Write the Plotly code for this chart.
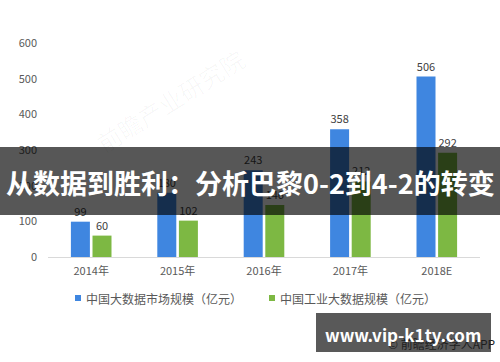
import plotly.graph_objects as go

categories = ["2014年", "2015年", "2016年", "2017年", "2018E"]
market_size = [99, 180, 243, 358, 506]
industrial_size = [60, 102, 146, 212, 292]
series_names = ["中国大数据市场规模（亿元）", "中国工业大数据规模（亿元）"]
y_ticks = [0, 100, 200, 300, 400, 500, 600]

FONT = "Noto Sans CJK SC, Microsoft YaHei, sans-serif"
BLUE = "#3F86E0"
GREEN = "#7DB843"
colors = [BLUE, GREEN]

fig = go.Figure()
for name, vals, col in zip(series_names, [market_size, industrial_size], colors):
    fig.add_trace(go.Bar(
        x=categories, y=vals, name=name,
        marker=dict(color=col, line=dict(width=0)),
        text=vals, textposition="outside", cliponaxis=False,
        textfont=dict(family=FONT, size=11, color="#404040"),
    ))

L, T, R, B = 48, 43, 20, 105
W, H = 500, 362
pw, ph = W - L - R, H - T - B

def px(x):
    return (x - L) / pw

def py(y):
    return (H - B - y) / ph

fig.update_layout(
    width=W, height=H,
    margin=dict(l=L, r=R, t=T, b=B, pad=0),
    paper_bgcolor="white", plot_bgcolor="white",
    barmode="group", bargap=0.5, bargroupgap=0.12,
    font=dict(family=FONT, color="#595959", size=11),
    showlegend=False,
    xaxis=dict(
        showgrid=False, showline=True, linecolor="#D9D9D9", linewidth=1,
        ticks="", ticklabelstandoff=4, tickfont=dict(size=11, color="#595959"),
    ),
    yaxis=dict(
        range=[0, 600], tickvals=y_ticks, showgrid=False, showline=False,
        zeroline=False, ticks="", ticklabelstandoff=10,
        tickfont=dict(size=11, color="#595959"),
    ),
)

# legend drawn as small squares + labels
legend_pos = [(75, 84), (269, 278)]
for (sx, tx), name, col in zip(legend_pos, series_names, colors):
    fig.add_shape(
        type="rect", xref="paper", yref="paper",
        x0=px(sx), x1=px(sx + 6), y0=py(301), y1=py(295),
        fillcolor=col, line=dict(width=0),
    )
    fig.add_annotation(
        text=name, x=px(tx), y=py(298), xref="paper", yref="paper",
        xanchor="left", yanchor="middle", showarrow=False,
        font=dict(family=FONT, size=12, color="#595959"),
    )

# faint diagonal watermark
fig.add_annotation(
    text="前瞻产业研究院", x=px(170), y=py(100), xref="paper", yref="paper",
    xanchor="center", yanchor="middle",
    showarrow=False, textangle=-32,
    font=dict(family=FONT, size=24, color="rgba(0,0,0,0.03)"),
)

# dark banner overlay
fig.add_shape(
    type="rect", xref="paper", yref="paper",
    x0=px(-5), x1=px(505), y0=py(215), y1=py(147),
    fillcolor="rgba(0,0,0,0.66)", line=dict(width=0), layer="above",
)
fig.add_annotation(
    text="<b>从数据到胜利：分析巴黎0-2到4-2的转变</b>",
    x=px(250), y=py(182), xref="paper", yref="paper", showarrow=False,
    xanchor="center", yanchor="middle",
    font=dict(family=FONT, size=27, color="white"),
)

# bottom-right watermark box
fig.add_shape(
    type="rect", xref="paper", yref="paper",
    x0=px(316), x1=px(491), y0=py(352), y1=py(313),
    fillcolor="rgba(0,0,0,0.65)", line=dict(width=0), layer="above",
)
fig.add_annotation(
    text="© 前瞻经济学人APP", x=px(497), y=py(343), xref="paper", yref="paper",
    xanchor="right", yanchor="middle", showarrow=False,
    font=dict(family=FONT, size=12, color="#1e1e1e"),
)
fig.add_annotation(
    text="<b>www.vip-k1ty.com</b>", x=px(403), y=py(334), xref="paper", yref="paper",
    xanchor="center", yanchor="middle", showarrow=False,
    font=dict(family=FONT, size=17, color="white"),
)

fig.write_html(
    "out.html",
    config={"displayModeBar": False},
    post_script="document.body.style.margin='0';document.body.style.overflow='hidden';",
)
